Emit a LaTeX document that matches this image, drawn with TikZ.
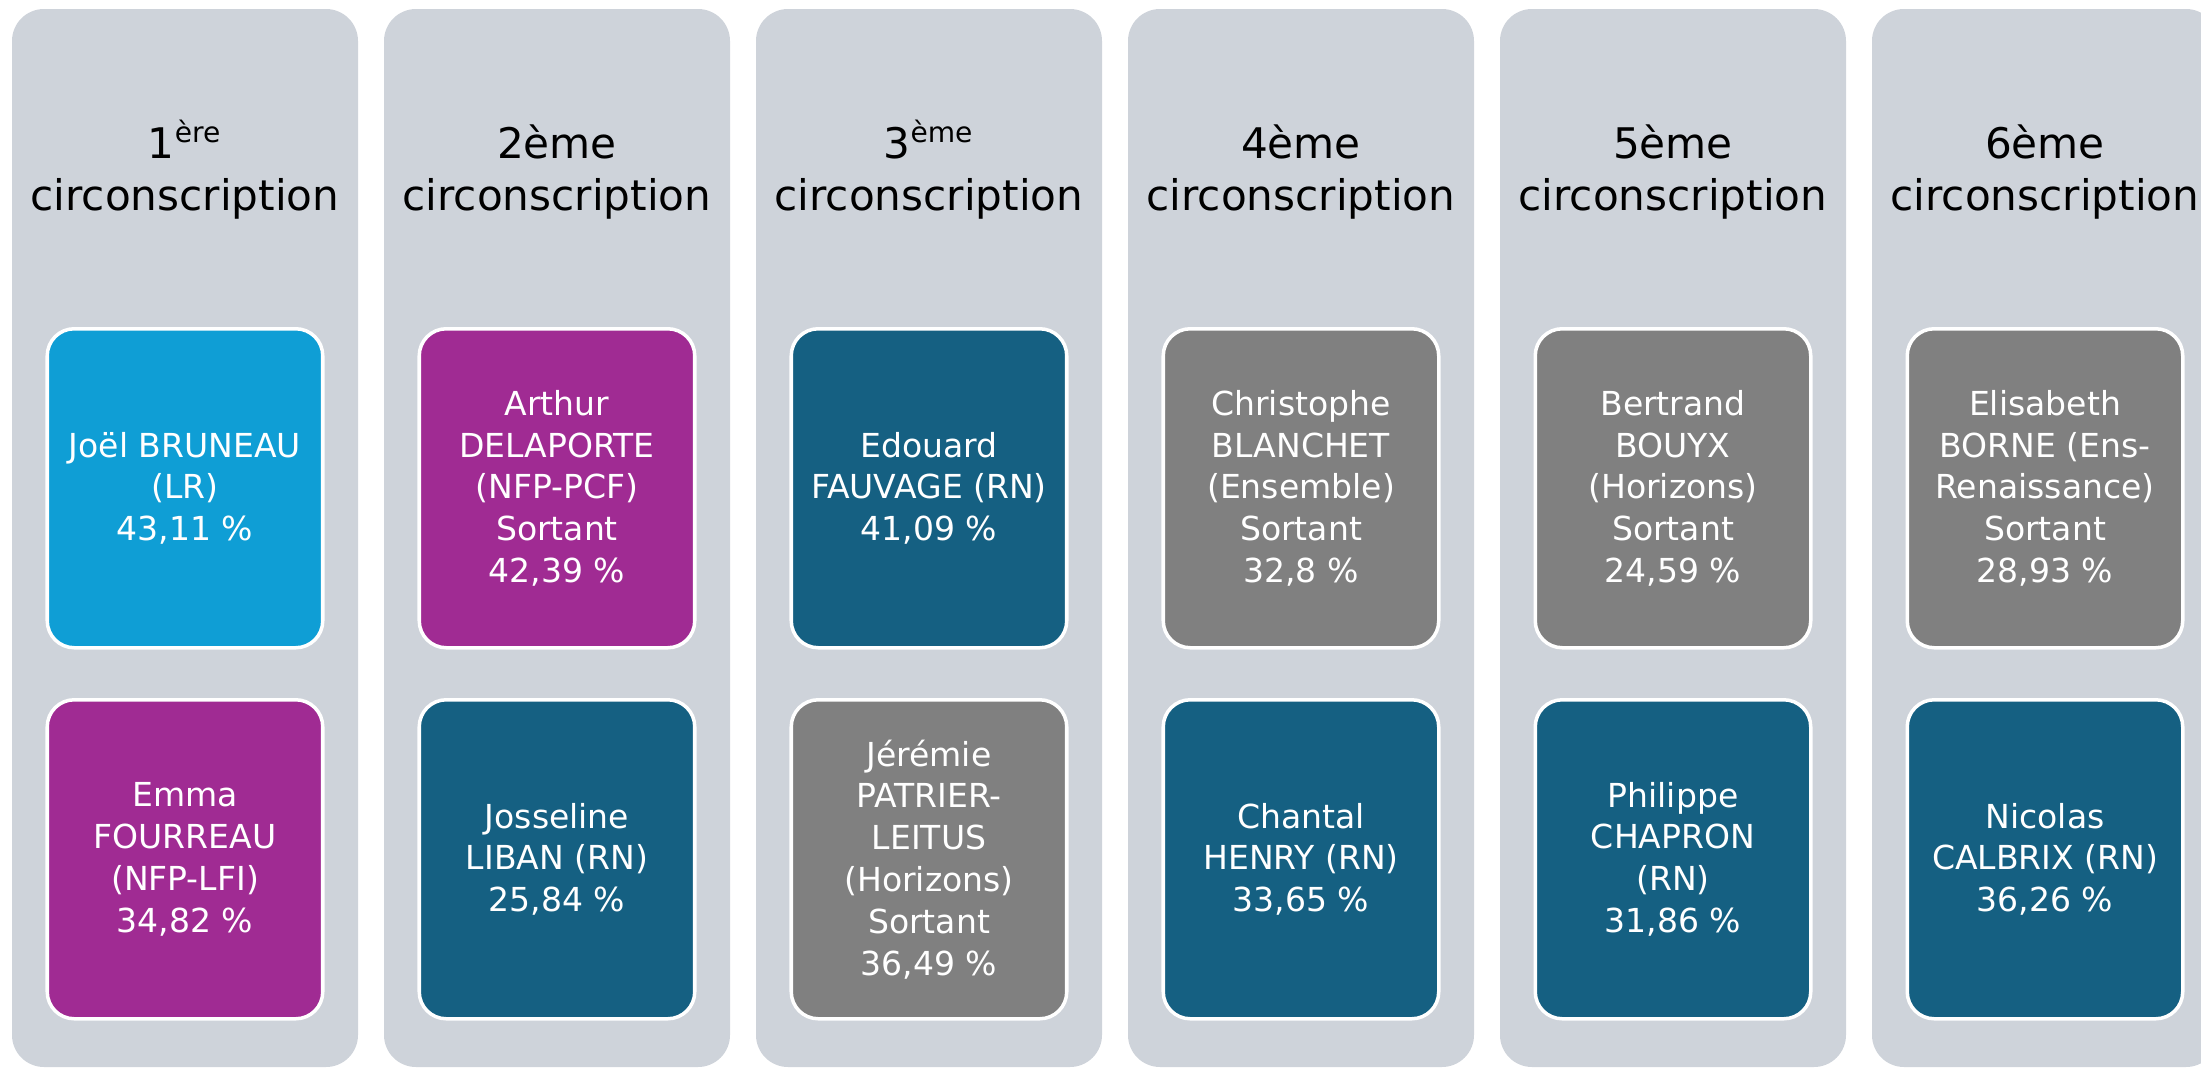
\documentclass[tikz,border=0pt]{standalone}
\usepackage{fontspec}
\setmainfont{DejaVu Sans}
\usepackage{tikz}
\usetikzlibrary{positioning}

\definecolor{colbg}{RGB}{206,211,218}
\definecolor{lrblue}{HTML}{0F9ED5}
\definecolor{nfppurple}{HTML}{A02B93}
\definecolor{rnblue}{HTML}{156082}
\definecolor{ensgray}{HTML}{808080}

\begin{document}
\begin{tikzpicture}[
		col/.style={rectangle, fill=colbg, rounded corners=0.32cm, minimum width=3.46cm, minimum height=10.58cm, inner sep=0, outer sep=0}
		,head/.style={align=center, inner sep=0, font=\fontsize{12}{14.8}\selectfont, execute at begin node=\strut, execute at end node=\strut}
		,cand/.style={rectangle, draw=white, line width=1pt, rounded corners=0.27cm, minimum width=2.755cm, minimum height=3.19cm, inner sep=0, align=center, text=white, font=\fontsize{9.4}{11.9}\selectfont, execute at begin node=\rule{0pt}{11pt}, execute at end node=\rule[-0.5pt]{0pt}{0.5pt}}
		,lr/.style={cand, fill=lrblue}
		,nfp/.style={cand, fill=nfppurple}
		,rn/.style={cand, fill=rnblue}
		,ens/.style={cand, fill=ensgray}
		,node distance=0.26cm
	]
		\useasboundingbox (0,0) rectangle (22.01,-10.68);
		\clip (0,0) rectangle (22.01,-10.68);

		\node[col] at (1.85,-5.38) (C1) {};
		\node[col, right=of C1] (C2) {};
		\node[col, right=of C2] (C3) {};
		\node[col, right=of C3] (C4) {};
		\node[col, right=of C4] (C5) {};
		\node[col, right=of C5] (C6) {};

		\node[lr, below=3.18cm of C1.north] (A1) {Joël BRUNEAU\\(LR)\\43,11~\%};
		\node[nfp, below=0.485cm of A1] (B1) {Emma\\FOURREAU\\(NFP-LFI)\\34,82~\%};
		\node[head, above=1.004cm of A1] (H1) {1\textsuperscript{ère}\\circonscription};

		\node[nfp, below=3.18cm of C2.north] (A2) {Arthur\\DELAPORTE\\(NFP-PCF)\\Sortant\\42,39~\%};
		\node[rn, below=0.485cm of A2] (B2) {Josseline\\LIBAN (RN)\\25,84~\%};
		\node[head, above=1.004cm of A2] (H2) {2ème\\circonscription};

		\node[rn, below=3.18cm of C3.north] (A3) {Edouard\\FAUVAGE (RN)\\41,09~\%};
		\node[ens, below=0.485cm of A3] (B3) {Jérémie\\PATRIER-\\LEITUS\\(Horizons)\\Sortant\\36,49~\%};
		\node[head, above=1.004cm of A3] (H3) {3\textsuperscript{ème}\\circonscription};

		\node[ens, below=3.18cm of C4.north] (A4) {Christophe\\BLANCHET\\(Ensemble)\\Sortant\\32,8~\%};
		\node[rn, below=0.485cm of A4] (B4) {Chantal\\HENRY (RN)\\33,65~\%};
		\node[head, above=1.004cm of A4] (H4) {4ème\\circonscription};

		\node[ens, below=3.18cm of C5.north] (A5) {Bertrand\\BOUYX\\(Horizons)\\Sortant\\24,59~\%};
		\node[rn, below=0.485cm of A5] (B5) {Philippe\\CHAPRON\\(RN)\\31,86~\%};
		\node[head, above=1.004cm of A5] (H5) {5ème\\circonscription};

		\node[ens, below=3.18cm of C6.north] (A6) {Elisabeth\\BORNE (Ens-\\Renaissance)\\Sortant\\28,93~\%};
		\node[rn, below=0.485cm of A6] (B6) {Nicolas\\CALBRIX (RN)\\36,26~\%};
		\node[head, above=1.004cm of A6] (H6) {6ème\\circonscription};
	\end{tikzpicture}
\end{document}
